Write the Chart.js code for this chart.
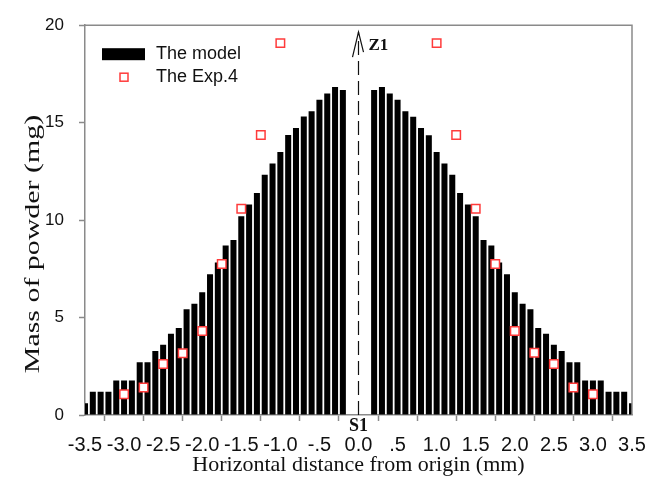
<!DOCTYPE html>
<html>
<head>
<meta charset="utf-8">
<script src="https://cdn.jsdelivr.net/npm/chart.js@4.4.1/dist/chart.umd.min.js"></script>
<style>
  html, body { margin: 0; padding: 0; background: #ffffff; }
  #wrap { position: relative; width: 659px; height: 484px; }
</style>
</head>
<body>
<div id="wrap"><canvas id="c" width="659" height="484"></canvas></div>
<script>
// ---- data ----
const modelX = [-3.5,-3.4,-3.3,-3.2,-3.1,-3.0,-2.9,-2.8,-2.7,-2.6,-2.5,-2.4,-2.3,-2.2,-2.1,-2.0,-1.9,-1.8,-1.7,-1.6,-1.5,-1.4,-1.3,-1.2,-1.1,-1.0,-0.9,-0.8,-0.7,-0.6,-0.5,-0.4,-0.3,-0.2,
                0.2,0.3,0.4,0.5,0.6,0.7,0.8,0.9,1.0,1.1,1.2,1.3,1.4,1.5,1.6,1.7,1.8,1.9,2.0,2.1,2.2,2.3,2.4,2.5,2.6,2.7,2.8,2.9,3.0,3.1,3.2,3.3,3.4,3.5];
const modelY = [0.6,1.19,1.19,1.19,1.77,1.77,1.77,2.71,2.71,3.29,3.6,4.17,4.46,5.43,5.71,6.3,7.22,7.82,8.7,8.98,10.2,10.8,11.39,12.33,12.91,13.49,14.37,14.72,15.31,15.58,16.18,16.49,16.83,16.68,
                16.68,16.83,16.49,16.18,15.58,15.3,14.72,14.35,13.49,12.91,12.33,11.39,10.8,10.2,8.98,8.7,7.82,7.22,6.3,5.71,5.43,4.46,4.17,3.6,3.29,2.71,2.71,1.77,1.77,1.77,1.19,1.19,1.19,0.6];
const expX = [-3.0,-2.75,-2.5,-2.25,-2.0,-1.75,-1.5,-1.25,-1.0, 1.0,1.25,1.5,1.75,2.0,2.25,2.5,2.75,3.0];
const expY = [1.07,1.41,2.62,3.17,4.31,7.75,10.58,14.37,19.08, 19.08,14.37,10.58,7.75,4.31,3.19,2.62,1.41,1.07];
const xTickLabels = ['-3.5','-3.0','-2.5','-2.0','-1.5','-1.0','-.5','0.0','.5','1.0','1.5','2.0','2.5','3.0','3.5'];
const yTickLabels = ['0','5','10','15','20'];
const seriesNames = ['The model', 'The Exp.4'];
const xTitle = 'Horizontal distance from origin (mm)';
const yTitle = 'Mass of powder (mg)';
const markLabels = ['Z1', 'S1'];

const AXIS = '#8a8a8a';
const RED = '#ff3b3b';

const overlay = {
  id: 'overlay',
  afterDatasetsDraw(chart) {
    const ctx = chart.ctx;
    const a = chart.chartArea;
    const xs = chart.scales.x, ys = chart.scales.y;
    ctx.save();
    // frame (top and right)
    ctx.strokeStyle = AXIS;
    ctx.lineWidth = 1.5;
    ctx.beginPath();
    ctx.moveTo(a.left, a.top);
    ctx.lineTo(a.right, a.top);
    ctx.lineTo(a.right, a.bottom);
    ctx.stroke();

    // dashed centre line with open arrow head
    const x0 = xs.getPixelForValue(0);
    const yTip = ys.getPixelForValue(19.65);
    ctx.strokeStyle = '#111';
    ctx.lineWidth = 1.2;
    ctx.setLineDash([14, 6]);
    ctx.beginPath();
    ctx.moveTo(x0, a.bottom);
    ctx.lineTo(x0, yTip);
    ctx.stroke();
    ctx.setLineDash([]);
    ctx.beginPath();
    ctx.moveTo(x0 - 6, yTip + 25);
    ctx.lineTo(x0, yTip);
    ctx.lineTo(x0 + 5, yTip + 20);
    ctx.stroke();

    // labels Z1 / S1
    ctx.fillStyle = '#111';
    ctx.font = 'bold 17px "Liberation Serif", "Times New Roman", serif';
    ctx.textAlign = 'left';
    ctx.textBaseline = 'alphabetic';
    ctx.fillText(markLabels[0], x0 + 10, yTip + 18);
    ctx.font = 'bold 18px "Liberation Serif", "Times New Roman", serif';
    ctx.textAlign = 'center';
    ctx.fillText(markLabels[1], x0, a.bottom + 16);

    // legend
    ctx.fillStyle = '#000';
    ctx.fillRect(a.left + 17, a.top + 23, 43, 12);
    ctx.strokeStyle = RED;
    ctx.fillStyle = '#fff';
    ctx.lineWidth = 1.5;
    ctx.fillRect(a.left + 35, a.top + 48, 8, 8);
    ctx.strokeRect(a.left + 35, a.top + 48, 8, 8);
    ctx.fillStyle = '#111';
    ctx.font = '18px "Liberation Sans", Arial, sans-serif';
    ctx.textAlign = 'left';
    ctx.fillText(seriesNames[0], a.left + 71, a.top + 34);
    ctx.fillText(seriesNames[1], a.left + 71, a.top + 57);

    // y-axis title (stretched along its length, as in the reference)
    ctx.translate(33, 244);
    ctx.rotate(-Math.PI / 2);
    ctx.scale(1.36, 1);
    ctx.font = '22px "Liberation Serif", "Times New Roman", serif';
    ctx.textAlign = 'center';
    ctx.textBaseline = 'middle';
    ctx.fillStyle = '#111';
    ctx.fillText(yTitle, 0, 0);
    ctx.restore();
  }
};

new Chart(document.getElementById('c'), {
  type: 'bar',
  data: {
    datasets: [
      {
        type: 'scatter',
        label: seriesNames[1],
        data: expX.map((x, i) => ({ x: x, y: expY[i] })),
        pointStyle: 'rect',
        pointRadius: 6,
        borderColor: RED,
        backgroundColor: '#ffffff',
        borderWidth: 1.5,
        order: 0
      },
      {
        type: 'bar',
        label: seriesNames[0],
        data: modelX.map((x, i) => ({ x: x, y: modelY[i] })),
        backgroundColor: '#000000',
        borderWidth: 0,
        categoryPercentage: 1.0,
        barPercentage: 0.77,
        clip: 0,
        order: 1
      }
    ]
  },
  options: {
    responsive: false,
    animation: false,
    devicePixelRatio: 1,
    layout: { padding: { top: 24, right: 27, left: 0, bottom: 0 } },
    plugins: { legend: { display: false }, tooltip: { enabled: false } },
    scales: {
      x: {
        type: 'linear',
        min: -3.5, max: 3.5,
        offset: false,
        afterBuildTicks(s) {
          s.ticks = xTickLabels.map((t, i) => ({ value: -3.5 + 0.5 * i }));
        },
        ticks: {
          autoSkip: false, maxRotation: 0, minRotation: 0,
          color: '#111', padding: 12,
          font: { family: '"Liberation Sans", Arial, sans-serif', size: 20 },
          callback: (v, i) => xTickLabels[i]
        },
        grid: { drawOnChartArea: false, drawTicks: true, tickLength: 6, tickColor: AXIS, tickWidth: 1.5 },
        border: { display: true, color: AXIS, width: 1.5 },
        title: {
          display: true, text: xTitle, color: '#111',
          font: { family: '"Liberation Serif", "Times New Roman", serif', size: 22, weight: 'normal' },
          padding: { top: 0, bottom: 6 }
        },
        afterFit(s) { s.height = 69; }
      },
      y: {
        type: 'linear',
        min: 0, max: 20,
        afterBuildTicks(s) {
          s.ticks = yTickLabels.map((t) => ({ value: Number(t) }));
        },
        ticks: {
          color: '#111', padding: 15,
          font: { family: '"Liberation Sans", Arial, sans-serif', size: 17 },
          callback: (v, i) => yTickLabels[i]
        },
        grid: { drawOnChartArea: false, drawTicks: true, tickLength: 6, tickColor: AXIS, tickWidth: 1.5 },
        border: { display: true, color: AXIS, width: 1.5 },
        title: { display: false },
        afterFit(s) { s.width = 85; }
      }
    }
  },
  plugins: [overlay]
});
</script>
</body>
</html>
